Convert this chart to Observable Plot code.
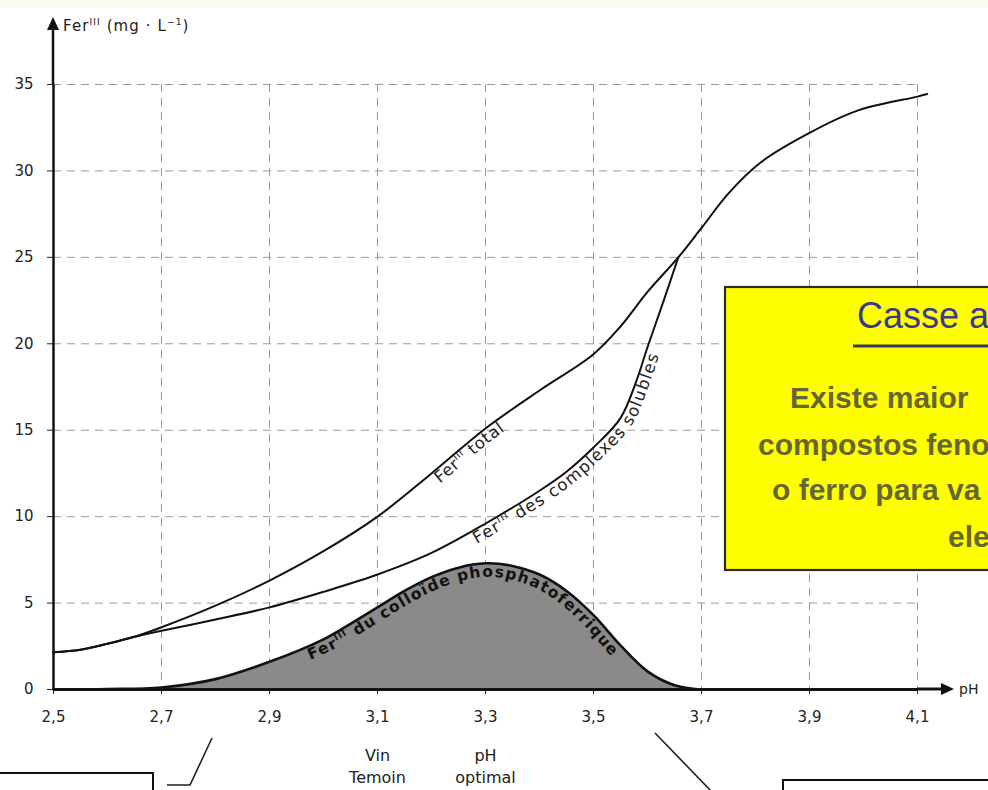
<!DOCTYPE html>
<html>
<head>
<meta charset="utf-8">
<script src="https://cdn.jsdelivr.net/npm/d3@7"></script>
<script src="https://cdn.jsdelivr.net/npm/@observablehq/plot@0.6"></script>
<style>
  html, body { margin: 0; padding: 0; background: #fff; }
  #wrap { position: relative; width: 988px; height: 790px; overflow: hidden; background: #fff; }
  #topband { position: absolute; left: 0; top: 0; width: 988px; height: 8px; background: #fbf9ee; }
  #chart { position: absolute; left: 0; top: 0; }
  #overlay { position: absolute; left: 0; top: 0; }
</style>
</head>
<body>
<div id="wrap">
  <div id="topband"></div>
  <div id="chart"></div>
  <svg id="overlay" width="988" height="790" viewBox="0 0 988 790"></svg>
</div>
<script>
// ---------------- data ----------------
const xTicks = [2.5, 2.7, 2.9, 3.1, 3.3, 3.5, 3.7, 3.9, 4.1];
const yTicks = [0, 5, 10, 15, 20, 25, 30, 35];

// Fer(III) total
const phTotal  = [2.5, 2.55, 2.6, 2.65, 2.7, 2.8, 2.9, 3.0, 3.1, 3.2, 3.3, 3.4, 3.5, 3.55, 3.6, 3.657, 3.7, 3.75, 3.81, 3.9, 3.99, 4.1, 4.118];
const ferTotal = [2.15, 2.3, 2.65, 3.05, 3.6, 4.85, 6.3, 8.0, 10.0, 12.5, 15.1, 17.3, 19.4, 21.0, 23.0, 25.0, 26.7, 28.7, 30.5, 32.2, 33.5, 34.3, 34.45];

// Fer(III) des complexes solubles
const phComplexes  = [2.5, 2.55, 2.6, 2.65, 2.685, 2.7, 2.8, 2.9, 3.0, 3.1, 3.2, 3.3, 3.4, 3.45, 3.5, 3.55, 3.58, 3.6, 3.63, 3.657];
const ferComplexes = [2.15, 2.3, 2.65, 3.05, 3.3, 3.4, 4.05, 4.75, 5.65, 6.65, 7.9, 9.6, 11.5, 12.6, 14.0, 15.7, 17.9, 19.8, 22.5, 25.0];

// Fer(III) du colloïde phosphatoferrique
const phColloid  = [2.5, 2.6, 2.7, 2.8, 2.9, 3.0, 3.05, 3.1, 3.15, 3.2, 3.25, 3.3, 3.35, 3.4, 3.45, 3.5, 3.55, 3.6, 3.65, 3.7];
const ferColloid = [0, 0.03, 0.12, 0.6, 1.6, 2.9, 3.8, 4.75, 5.7, 6.5, 7.05, 7.3, 7.15, 6.65, 5.7, 4.3, 2.55, 1.05, 0.25, 0];

// annotations under the x axis
const annotPh = [3.1, 3.3];
const annotText = ["Vin\nTemoin", "pH\noptimal"];

// yellow box text
const boxTitle = "Casse a";
const boxLines = ["Existe maior", "compostos feno", "o ferro para va", "ele"];

// ---------------- tables ----------------
const total = phTotal.map((ph, i) => ({ph, fer: ferTotal[i]}));
const complexes = phComplexes.map((ph, i) => ({ph, fer: ferComplexes[i]}));
const colloid = phColloid.map((ph, i) => ({ph, fer: ferColloid[i]}));
const annot = annotPh.map((ph, i) => ({ph, label: annotText[i]}));

const fmt = d => d.toFixed(1).replace(".", ",");
const CURVE = "catmull-rom";

const chart = Plot.plot({
  width: 988,
  height: 790,
  marginLeft: 53,
  marginRight: 71,
  marginTop: 84,
  marginBottom: 101,
  style: {background: "transparent", fontFamily: "'DejaVu Sans', sans-serif", fontSize: "15px", color: "#222", overflow: "visible"},
  x: {domain: [2.5, 4.1], ticks: xTicks, tickFormat: fmt, tickSize: 5, tickPadding: 17, label: null},
  y: {domain: [0, 35], ticks: yTicks, tickSize: 6, tickPadding: 14, label: null},
  marks: [
    Plot.ruleX(xTicks.slice(1), {stroke: "#9a9a9a", strokeWidth: 1, strokeDasharray: "8,6"}),
    Plot.ruleY(yTicks.slice(1), {stroke: "#9a9a9a", strokeWidth: 1, strokeDasharray: "8,6"}),
    Plot.areaY(colloid, {x: "ph", y: "fer", fill: "#8a8a8a", curve: CURVE}),
    Plot.line(colloid, {x: "ph", y: "fer", stroke: "#111", strokeWidth: 2.6, curve: CURVE}),
    Plot.line(total, {x: "ph", y: "fer", stroke: "#111", strokeWidth: 2, curve: CURVE}),
    Plot.line(complexes, {x: "ph", y: "fer", stroke: "#111", strokeWidth: 2, curve: CURVE}),
    Plot.ruleX([2.5], {stroke: "#111", strokeWidth: 2.5}),
    Plot.ruleY([0], {stroke: "#111", strokeWidth: 3}),
    Plot.text(annot, {x: "ph", frameAnchor: "bottom", text: "label", dy: 56, lineAnchor: "top", lineHeight: 1.375, fontSize: 16, fill: "#222"})
  ]
});
document.getElementById("chart").appendChild(chart);

// ---------------- overlay (labels, arrows, boxes) ----------------
const xs = chart.scale("x"), ys = chart.scale("y");
const X = xs.apply ? (v => xs.apply(v)) : d3.scaleLinear(xs.domain, xs.range);
const Y = ys.apply ? (v => ys.apply(v)) : d3.scaleLinear(ys.domain, ys.range);
const ov = d3.select("#overlay");
const FONT = "'DejaVu Sans', sans-serif";

// Label following a curve, its baseline offset below-right of the curve by `off` pixels
function curvedLabel(id, phs, fers, startPH, parts, o) {
  const line = d3.line().x((d, i) => X(phs[i])).y((d, i) => Y(fers[i])).curve(d3.curveCatmullRom);
  const tmp = ov.append("path").attr("d", line(phs)).attr("fill", "none").attr("stroke", "none");
  const node = tmp.node();
  const L = node.getTotalLength();
  const pts = [];
  const step = 2;
  for (let s = 0; s <= L; s += step) {
    const a = node.getPointAtLength(Math.max(0, s - 1)), b = node.getPointAtLength(Math.min(L, s + 1));
    const p = node.getPointAtLength(s);
    let dx = b.x - a.x, dy = b.y - a.y; const n = Math.hypot(dx, dy) || 1; dx /= n; dy /= n;
    pts.push([p.x + (-dy) * o.off, p.y + dx * o.off, p.x]);
  }
  tmp.remove();
  const target = X(startPH);
  let k0 = pts.findIndex(p => p[2] >= target);
  if (k0 < 0) k0 = 0;
  const offPts = pts.slice(k0).map(p => [p[0], p[1]]);
  ov.append("path").attr("id", id).attr("d", d3.line().curve(d3.curveBasis)(offPts)).attr("fill", "none").attr("stroke", "none");
  const t = ov.append("text")
    .attr("font-family", FONT).attr("font-size", o.size).attr("font-weight", o.weight || "normal")
    .attr("fill", o.fill || "#222").attr("letter-spacing", o.ls || 0);
  const tp = t.append("textPath").attr("href", "#" + id).attr("startOffset", 0);
  parts.forEach(p => {
    const s = tp.append("tspan").text(p.t);
    if (p.sup) s.attr("font-size", o.size * 0.6).attr("baseline-shift", "70%");
  });
}

curvedLabel("lblTotal", phTotal, ferTotal, 3.2,
  [{t: "Fer"}, {t: "III", sup: true}, {t: " total"}], {size: 16.5, off: 14, ls: 0.6});
curvedLabel("lblComplexes", phComplexes, ferComplexes, 3.27,
  [{t: "Fer"}, {t: "III", sup: true}, {t: " des complexes solubles"}], {size: 16.5, off: 14, ls: 1.3});
curvedLabel("lblColloid", phColloid, ferColloid, 2.965,
  [{t: "Fer"}, {t: "III", sup: true}, {t: " du colloïde phosphatoferrique"}], {size: 15.5, off: 14, weight: "bold", fill: "#111", ls: 1.2});

// axis extensions and arrowheads
const x0 = X(2.5), xEnd = X(4.1), y0 = Y(0), yTop = Y(35);
ov.append("line").attr("x1", xEnd).attr("x2", xEnd + 26).attr("y1", y0).attr("y2", y0).attr("stroke", "#111").attr("stroke-width", 3);
ov.append("path").attr("d", `M${xEnd + 24},${y0 - 6}L${xEnd + 37},${y0}L${xEnd + 24},${y0 + 6}Z`).attr("fill", "#111");
ov.append("text").attr("x", xEnd + 42).attr("y", y0 + 5).attr("font-family", FONT).attr("font-size", 14).attr("fill", "#222").text("pH");
ov.append("line").attr("x1", x0).attr("x2", x0).attr("y1", yTop).attr("y2", yTop - 56).attr("stroke", "#111").attr("stroke-width", 2.5);
ov.append("path").attr("d", `M${x0 - 6},${yTop - 54}L${x0},${yTop - 67}L${x0 + 6},${yTop - 54}Z`).attr("fill", "#111");
const yl = ov.append("text").attr("x", x0 + 10).attr("y", yTop - 53).attr("font-family", FONT).attr("font-size", 15).attr("fill", "#222").attr("letter-spacing", 1.1);
yl.append("tspan").text("Fer");
yl.append("tspan").attr("font-size", 9).attr("dy", -6).text("III");
yl.append("tspan").attr("dy", 6).text(" (mg · L");
yl.append("tspan").attr("font-size", 9).attr("dy", -6).text("−1");
yl.append("tspan").attr("dy", 6).text(")");

// connector lines and partial boxes at the bottom
ov.append("path").attr("d", "M212,738L190,785L167,785").attr("fill", "none").attr("stroke", "#222").attr("stroke-width", 1.6);
ov.append("path").attr("d", "M655,733L712,792").attr("fill", "none").attr("stroke", "#222").attr("stroke-width", 1.6);
ov.append("rect").attr("x", -10).attr("y", 773).attr("width", 163).attr("height", 40).attr("fill", "#fff").attr("stroke", "#111").attr("stroke-width", 2);
ov.append("rect").attr("x", 783).attr("y", 780).attr("width", 260).attr("height", 40).attr("fill", "#fff").attr("stroke", "#111").attr("stroke-width", 2);

// yellow box
ov.append("rect").attr("x", 725).attr("y", 287).attr("width", 400).attr("height", 283).attr("fill", "#ffff00").attr("stroke", "#2b2b2b").attr("stroke-width", 2.2);
ov.append("text").attr("x", 857).attr("y", 328).attr("font-family", "'Liberation Sans', Arial, sans-serif").attr("font-size", 36).attr("fill", "#3a3a8c").text(boxTitle);
ov.append("line").attr("x1", 853).attr("x2", 1000).attr("y1", 346).attr("y2", 346).attr("stroke", "#3a3a5c").attr("stroke-width", 3);
const lineX = [790, 758, 772, 948];
const lineY = [408, 455, 500, 547];
boxLines.forEach((s, i) => {
  ov.append("text").attr("x", lineX[i]).attr("y", lineY[i]).attr("font-family", "'Liberation Sans', Arial, sans-serif")
    .attr("font-size", 30).attr("font-weight", "bold").attr("fill", "#666633").text(s);
});
</script>
</body>
</html>
